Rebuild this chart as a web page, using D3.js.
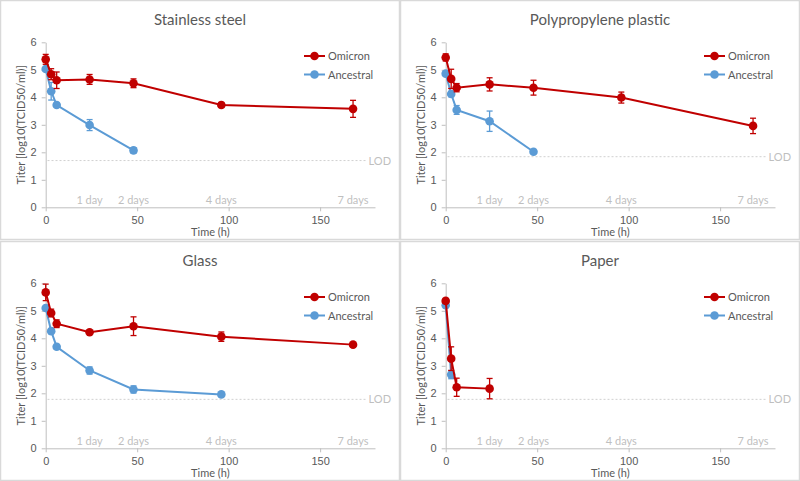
<!DOCTYPE html>
<html>
<head>
<meta charset="utf-8">
<script src="https://cdn.jsdelivr.net/npm/d3@7/dist/d3.min.js"></script>
<style>
  html, body { margin: 0; padding: 0; background: #fff; }
  svg { display: block; font-family: Lato, "Open Sans", sans-serif; }
</style>
</head>
<body>
<div id="chart"></div>
<script>
// surfaces, one panel each
const surfaces = ["Stainless steel", "Polypropylene plastic", "Glass", "Paper"];
const hours = [0, 3, 6, 24, 48, 96, 168];

// null = not measured / below detection
const omicronMean = [
  [5.38, 4.84, 4.62, 4.65, 4.51, 3.72, 3.58],
  [5.45, 4.67, 4.35, 4.47, 4.35, 3.99, 2.96],
  [5.67, 4.92, 4.53, 4.22, 4.44, 4.06, 3.77],
  [5.36, 3.26, 2.22, 2.17, null, null, null]
];
const omicronErr = [
  [0.18, 0.2, 0.3, 0.18, 0.16, 0.09, 0.31],
  [0.13, 0.35, 0.15, 0.24, 0.27, 0.2, 0.28],
  [0.3, 0.14, 0.14, 0.05, 0.34, 0.17, 0.07],
  [0.08, 0.43, 0.33, 0.37, null, null, null]
];
const ancestralMean = [
  [5.03, 4.22, 3.72, 2.99, 2.07, null, null],
  [4.86, 4.12, 3.54, 3.13, 2.02, null, null],
  [5.1, 4.26, 3.69, 2.83, 2.14, 1.96, null],
  [5.2, 2.68, null, null, null, null, null]
];
const ancestralErr = [
  [0.05, 0.32, 0.07, 0.2, 0.1, null, null],
  [0.05, 0.1, 0.16, 0.37, 0.05, null, null],
  [0.05, 0.05, 0.07, 0.13, 0.13, 0.05, null],
  [0.05, 0.15, null, null, null, null, null]
];
const lod = [1.7, 1.84, 1.78, 1.78];

const dayHours = [24, 48, 96, 168];
const dayLabels = ["1 day", "2 days", "4 days", "7 days"];
const xTicks = [0, 50, 100, 150];
const yTicks = [0, 1, 2, 3, 4, 5, 6];
const seriesNames = ["Omicron", "Ancestral"];
const seriesColors = ["#C00000", "#5B9BD5"];

const W = 800, H = 481;
const pw = 400, ph = 240;
const origins = [[0, 0], [400, 0], [0, 241], [400, 241]];

const svg = d3.select("#chart").append("svg")
  .attr("width", W).attr("height", H)
  .attr("viewBox", [0, 0, W, H]);

const x = d3.scaleLinear([0, 180], [45.7, 375]);
const y = d3.scaleLinear([0, 6], [207.3, 42.3]);
const textGray = "#595959";

surfaces.forEach((name, p) => {
  const g = svg.append("g")
    .attr("transform", `translate(${origins[p][0]},${origins[p][1]})`);

  g.append("rect")
    .attr("x", 0.5).attr("y", 0.5)
    .attr("width", pw - 1).attr("height", ph - 1)
    .attr("fill", "#fff").attr("stroke", "#d9d9d9").attr("stroke-width", 1.5);

  g.append("text")
    .attr("x", 200).attr("y", 25)
    .attr("text-anchor", "middle")
    .attr("font-size", 15).attr("fill", textGray)
    .text(name);

  // axes
  g.append("g")
    .attr("transform", `translate(0,${y(0)})`)
    .call(d3.axisBottom(x).tickValues(xTicks).tickSize(4).tickSizeOuter(0))
    .call(a => a.select(".domain").attr("stroke", "#bfbfbf"))
    .call(a => a.selectAll(".tick line").attr("stroke", "#bfbfbf"))
    .call(a => a.selectAll("text").attr("fill", textGray).attr("font-size", 11).attr("font-family", null).attr("dy", "0.9em"));

  g.append("g")
    .attr("transform", `translate(${x(0)},0)`)
    .call(d3.axisLeft(y).tickValues(yTicks).tickFormat(d3.format("d")).tickSize(4).tickSizeOuter(0))
    .call(a => a.select(".domain").attr("stroke", "#bfbfbf"))
    .call(a => a.selectAll(".tick line").attr("stroke", "#bfbfbf"))
    .call(a => a.selectAll("text").attr("fill", textGray).attr("font-size", 11).attr("font-family", null).attr("x", -9));

  g.append("text")
    .attr("x", (x.range()[0] + x.range()[1]) / 2).attr("y", 236)
    .attr("text-anchor", "middle")
    .attr("font-size", 11).attr("fill", textGray)
    .text("Time (h)");

  g.append("text")
    .attr("transform", `translate(25,${(y(0) + y(6)) / 2}) rotate(-90)`)
    .attr("text-anchor", "middle")
    .attr("font-size", 11).attr("fill", textGray)
    .text("Titer [log10(TCID50/ml)]");

  // day markers
  g.selectAll(".day")
    .data(dayHours)
    .join("text")
    .attr("x", d => x(d)).attr("y", y(0.27) + 4)
    .attr("text-anchor", "middle")
    .attr("font-size", 11).attr("fill", "#bfbfbf")
    .text((d, i) => dayLabels[i]);

  // limit of detection
  g.append("line")
    .attr("x1", x(1)).attr("x2", x(175.5))
    .attr("y1", y(lod[p])).attr("y2", y(lod[p]))
    .attr("stroke", "#d0d0d0").attr("stroke-dasharray", "2,2");
  g.append("text")
    .attr("x", x(176.5)).attr("y", y(lod[p]) + 4)
    .attr("font-size", 11).attr("fill", "#bfbfbf")
    .text("LOD");

  // series (ancestral underneath omicron)
  [ancestralMean, omicronMean].forEach((means, k) => {
    const errs = k === 0 ? ancestralErr : omicronErr;
    const color = k === 0 ? seriesColors[1] : seriesColors[0];
    const pts = hours.map((h, i) => ({h, v: means[p][i], e: errs[p][i]}))
      .filter(d => d.v !== null);

    g.append("path")
      .datum(pts)
      .attr("fill", "none").attr("stroke", color).attr("stroke-width", 2)
      .attr("d", d3.line().x(d => x(d.h)).y(d => y(d.v)));

    const eb = g.append("g").attr("stroke", color).attr("stroke-width", 1.3);
    pts.forEach(d => {
      eb.append("line").attr("x1", x(d.h)).attr("x2", x(d.h))
        .attr("y1", y(d.v - d.e)).attr("y2", y(d.v + d.e));
      [d.v - d.e, d.v + d.e].forEach(v => eb.append("line")
        .attr("x1", x(d.h) - 3).attr("x2", x(d.h) + 3)
        .attr("y1", y(v)).attr("y2", y(v)));
    });

    g.selectAll(null)
      .data(pts)
      .join("circle")
      .attr("cx", d => x(d.h)).attr("cy", d => y(d.v))
      .attr("r", 4.3).attr("fill", color);
  });

  // legend
  seriesNames.forEach((s, i) => {
    const ly = 56 + i * 18.5;
    g.append("line")
      .attr("x1", 304).attr("x2", 325).attr("y1", ly).attr("y2", ly)
      .attr("stroke", seriesColors[i]).attr("stroke-width", 2);
    g.append("circle")
      .attr("cx", 314.5).attr("cy", ly).attr("r", 4.3).attr("fill", seriesColors[i]);
    g.append("text")
      .attr("x", 328).attr("y", ly + 4)
      .attr("font-size", 11).attr("fill", textGray)
      .text(s);
  });
});
</script>
</body>
</html>
